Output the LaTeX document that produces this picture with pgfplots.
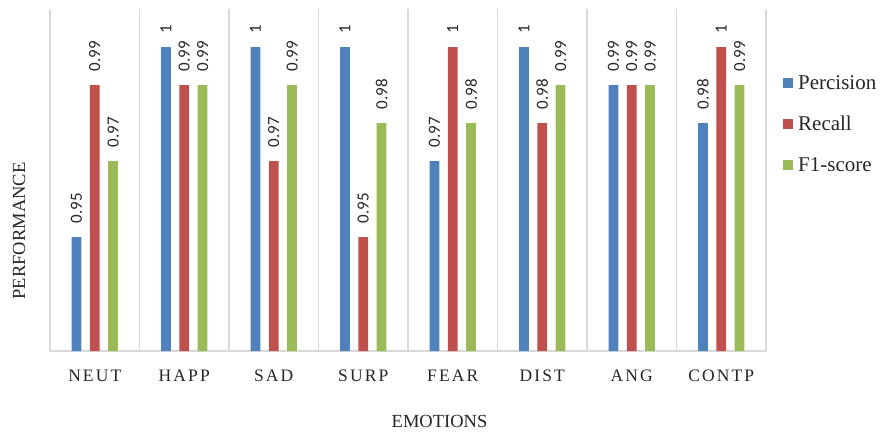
\documentclass[border=0pt]{standalone}
\usepackage{pgfplots}
\pgfplotsset{compat=1.18}
\usepackage{fontspec}
\setmainfont{Liberation Serif}
\newfontfamily\lblfont{Carlito}
\newfontfamily\catfont[LetterSpace=12]{Liberation Serif}

\definecolor{pblue}{HTML}{4F81BD}
\definecolor{pred}{HTML}{C0504D}
\definecolor{pgreen}{HTML}{9BBB59}
\definecolor{gridgray}{HTML}{D9D9D9}
\definecolor{txt}{HTML}{262626}

\pgfplotsset{
  sqlegend/.style={legend image code/.code={\fill[##1] (0pt,-4pt) rectangle (10pt,6pt);}}
}

\begin{document}
\begin{tikzpicture}[x=1pt,y=1pt]
\useasboundingbox (0,0) rectangle (880,432);
\begin{axis}[
  at={(50pt,81pt)}, anchor=south west,
  scale only axis, width=716pt, height=342pt,
  xmin=-0.5, xmax=7.5, ymin=0.92, ymax=1.01,
  ybar=8.6pt, bar width=9.7pt,
  xtick={0,...,7},
  xticklabels={NEUT,HAPP,SAD,SURP,FEAR,DIST,ANG,CONTP},
  minor xtick={-0.5,0.5,...,7.5},
  xminorgrids,
  minor grid style={draw=gridgray, line width=1.3pt},
  major tick length=0pt, minor tick length=0pt,
  ytick=\empty,
  axis x line*=bottom, axis y line*=left,
  x axis line style={draw=gridgray, line width=1.3pt},
  y axis line style={draw=none},
  xticklabel style={font=\catfont\fontsize{17.5}{18}\selectfont, text=txt, anchor=base, yshift=-30pt},
  xlabel={EMOTIONS},
  xlabel style={at={(axis description cs:0.544,-0.2251)}, anchor=base, font=\fontsize{18.5}{19}\selectfont, text=txt},
  ylabel={PERFORMANCE},
  ylabel style={at={(axis description cs:-0.0433,0.351)}, anchor=center, font=\fontsize{18.5}{19}\selectfont, text=txt},
  nodes near coords={\pgfmathprintnumber[assume math mode=true]{\pgfplotspointmeta}},
  every node near coord/.append style={rotate=90, anchor=west, font=\lblfont\fontsize{17}{17}\selectfont, text=txt, inner sep=0pt, outer xsep=14pt},
  legend style={draw=none, fill=none, at={(axis description cs:1.0237,0.6608)}, anchor=west,
    font=\fontsize{21}{21}\selectfont, text=txt, inner sep=0pt, row sep=23pt,
    nodes={inner sep=0pt, text height=14pt, text depth=4pt},
    /tikz/every odd column/.style={column sep=5pt}},
  legend cell align=left,
]
\addplot[fill=pblue, draw=none, sqlegend] coordinates
  {(0,0.95) (1,1) (2,1) (3,1) (4,0.97) (5,1) (6,0.99) (7,0.98)};
\addplot[fill=pred, draw=none, sqlegend] coordinates
  {(0,0.99) (1,0.99) (2,0.97) (3,0.95) (4,1) (5,0.98) (6,0.99) (7,1)};
\addplot[fill=pgreen, draw=none, sqlegend] coordinates
  {(0,0.97) (1,0.99) (2,0.99) (3,0.98) (4,0.98) (5,0.99) (6,0.99) (7,0.99)};
\legend{Percision, Recall, F1-score}
\end{axis}
\end{tikzpicture}
\end{document}
